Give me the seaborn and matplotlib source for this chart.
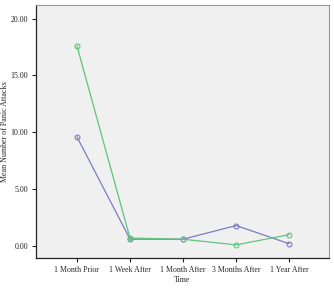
import numpy as np
import pandas as pd
import seaborn as sns
import matplotlib
matplotlib.use("Agg")
import matplotlib.pyplot as plt

# data
time_labels = ['1 Month Prior', '1 Week After', '1 Month After', '3 Months After', '1 Year After']
group_a = [9.6, 0.6, 0.6, 1.8, 0.2]    # purple line
group_b = [17.6, 0.7, 0.6, 0.1, 1.0]   # green line
y_ticks = [0, 5, 10, 15, 20]

df = pd.DataFrame({
    'Time': time_labels * 2,
    'pos': list(range(len(time_labels))) * 2,
    'value': group_a + group_b,
    'group': ['A'] * len(group_a) + ['B'] * len(group_b),
})

sns.set_style('white')
plt.rcParams['font.family'] = ['Liberation Serif', 'DejaVu Serif']

fig = plt.figure(figsize=(3.34, 2.89), dpi=100)
ax = fig.add_axes([0.108, 0.107, 0.877, 0.876])
ax.set_facecolor('#f0f0f0')

palette = {'A': '#7c7cc0', 'B': '#5ec47c'}
sns.lineplot(data=df, x='pos', y='value', hue='group', palette=palette,
             marker='o', markersize=3.5, mfc='none', linewidth=0.9,
             legend=False, ax=ax)
for line in ax.lines:
    line.set_markeredgecolor(line.get_color())
    line.set_markeredgewidth(0.8)

ax.set_xlim(-0.77, 4.75)
ax.set_ylim(-1.06, 21.2)
ax.set_xticks(range(len(time_labels)))
ax.set_xticklabels(time_labels)
ax.set_yticks(y_ticks)
ax.set_yticklabels(['%.2f' % t for t in y_ticks])
ax.tick_params(axis='both', labelsize=5.7, length=3, width=0.8, color='#222222',
               direction='out', pad=2.5, bottom=True, left=True)
ax.set_xlabel('Time', fontsize=5.8, labelpad=2)
ax.set_ylabel('Mean Number of Panic Attacks', fontsize=5.8)
ax.yaxis.set_label_coords(-0.092, 0.5)

for s in ['left', 'bottom']:
    ax.spines[s].set_color('#222222')
    ax.spines[s].set_linewidth(0.9)
for s in ['top', 'right']:
    ax.spines[s].set_color('#999999')
    ax.spines[s].set_linewidth(0.8)

fig.savefig('out.png', dpi=100)
